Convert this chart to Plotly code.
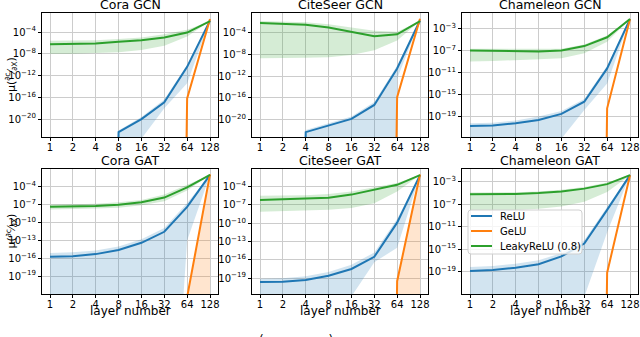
"""
Gradient magnitude vs. layer depth, 2x3 panels (GCN / GAT on three datasets).
Values are log10 of mu(dc/dX); Z marks a zero (drawn as falling off the log axis).
"""

import numpy as np
import plotly.graph_objects as go

LAYERS = [1, 2, 4, 8, 16, 32, 64, 128]
LAYER_LABELS = ["1", "2", "4", "8", "16", "32", "64", "128"]
Z = -300  # zero value -> off the bottom of a log axis

PANEL_TITLES = ["Cora GCN", "CiteSeer GCN", "Chameleon GCN",
                "Cora GAT", "CiteSeer GAT", "Chameleon GAT"]
SERIES = ["ReLU", "GeLU", "LeakyReLU (0.8)"]

# --- ReLU (mean line, band top, band bottom) ---
RELU = [
    [Z, Z, Z, -22.4, -20.0, -16.9, -10.4, -1.9],
    [Z, Z, -22.4, -21.2, -19.95, -17.35, -10.6, -1.7],
    [-20.7, -20.6, -20.2, -19.6, -18.5, -16.3, -10.25, -1.3],
    [-15.75, -15.65, -15.3, -14.6, -13.4, -11.55, -7.36, -2.0],
    [-19.65, -19.6, -19.3, -18.6, -17.5, -15.5, -9.9, -2.1],
    [-18.9, -18.7, -18.3, -17.7, -16.3, -14.0, -8.0, -1.8],
]
RELU_HI = [
    [Z, Z, Z, -22.1, -19.6, -16.4, -10.0, -1.9],
    [Z, Z, -22.0, -20.8, -19.5, -16.8, -10.1, -1.7],
    [-20.2, -20.1, -19.7, -19.0, -18.0, -15.8, -9.8, -1.3],
    [-15.1, -15.0, -14.7, -14.0, -12.8, -10.9, -6.7, -2.0],
    [-19.1, -19.0, -18.7, -18.0, -16.8, -14.8, -9.3, -2.1],
    [-18.2, -18.0, -17.6, -17.0, -15.7, -13.4, -7.5, -1.8],
]
RELU_LO = [
    [Z, Z, Z, Z, -23.6, -18.0, -13.4, -1.9],
    [Z, Z, Z, Z, Z, Z, -12.5, -1.7],
    [Z, Z, Z, Z, -23.0, -17.8, -13.0, -1.3],
    [Z, Z, Z, Z, Z, Z, -13.0, -2.0],
    [Z, Z, Z, Z, -22.0, -16.4, -14.0, -2.1],
    [Z, Z, Z, Z, Z, -23.5, -12.0, -1.8],
]

# --- GeLU ---
GELU = [
    [Z, Z, Z, Z, Z, Z, -16.2, -1.6],
    [Z, Z, Z, Z, Z, Z, -15.9, -1.35],
    [Z, Z, Z, Z, Z, Z, -17.5, -1.3],
    [Z, Z, Z, Z, Z, Z, -22.5, -1.9],
    [Z, Z, Z, Z, Z, Z, -19.5, -2.0],
    [Z, Z, Z, Z, Z, Z, -19.2, -1.8],
]
# band only visible on Cora GAT / CiteSeer GAT (None = not visible)
GELU_HI = [
    None, None, None,
    [Z, Z, Z, Z, Z, Z, -22.5, -1.9],
    [Z, Z, Z, Z, Z, Z, -19.5, -2.0],
    None,
]
GELU_LO = [
    None, None, None,
    [Z, Z, Z, Z, Z, Z, Z, Z],
    [Z, Z, Z, Z, Z, Z, Z, Z],
    None,
]

# --- LeakyReLU (0.8) ---
LEAKY = [
    [-6.25, -6.2, -6.1, -5.8, -5.5, -5.0, -4.1, -2.0],
    [-2.15, -2.3, -2.5, -3.0, -3.8, -4.6, -4.25, -1.8],
    [-7.0, -7.05, -7.1, -7.2, -7.0, -6.2, -4.6, -1.3],
    [-7.36, -7.3, -7.2, -7.0, -6.6, -5.8, -4.1, -2.0],
    [-6.2, -6.1, -6.0, -5.8, -5.3, -4.55, -3.7, -2.1],
    [-5.2, -5.2, -5.15, -5.0, -4.7, -4.2, -3.4, -1.8],
]
LEAKY_HI = [
    [-5.6, -5.6, -5.5, -5.3, -5.0, -4.4, -3.6, -2.0],
    [-1.8, -1.9, -2.0, -2.4, -3.0, -3.6, -3.8, -1.8],
    [-6.7, -6.7, -6.7, -6.8, -6.7, -5.9, -4.3, -1.3],
    [-7.0, -6.95, -6.85, -6.6, -6.2, -5.3, -3.7, -2.0],
    [-5.5, -5.5, -5.4, -5.2, -4.8, -4.1, -3.4, -2.1],
    [-4.9, -4.9, -4.85, -4.7, -4.4, -3.9, -3.1, -1.8],
]
LEAKY_LO = [
    [-8.0, -8.0, -7.9, -7.7, -7.3, -6.5, -4.8, -2.0],
    [-8.7, -8.7, -8.6, -8.5, -8.1, -7.2, -5.4, -1.8],
    [-9.0, -8.9, -8.8, -8.6, -8.4, -7.5, -5.4, -1.3],
    [-7.8, -7.75, -7.65, -7.5, -7.1, -6.4, -4.6, -2.0],
    [-8.1, -8.0, -7.9, -7.8, -7.5, -6.7, -4.8, -2.1],
    [-8.0, -8.0, -8.0, -7.8, -7.4, -6.55, -4.8, -1.8],
]

# y tick exponents and y ranges (log10) per panel
Y_TICKS = [
    [-4, -8, -12, -16, -20],
    [-4, -8, -12, -16, -20],
    [-3, -7, -11, -15, -19],
    [-4, -7, -10, -13, -16, -19],
    [-4, -7, -10, -13, -16, -19],
    [-3, -7, -11, -15, -19],
]
Y_RANGES = [
    [-23.3, -0.5], [-23.3, -0.3], [-22.7, -0.2],
    [-22.0, -1.0], [-21.6, -1.1], [-23.0, -0.7],
]

COLORS = {"ReLU": "#1f77b4", "GeLU": "#ff7f0e", "LeakyReLU (0.8)": "#2ca02c"}
FILLS = {"ReLU": "rgba(31,119,180,0.2)", "GeLU": "rgba(255,127,14,0.2)",
         "LeakyReLU (0.8)": "rgba(44,160,44,0.2)"}

W, H = 640, 337
COLS_PX = [(42, 218), (252, 428), (462, 638)]
ROWS_PX = [(13, 137), (169, 294)]
FONT = "DejaVu Sans"


def px(x):
    return x / W


def py(y):
    return 1 - y / H


def _v(exps):
    return list(10.0 ** np.array(exps, dtype=float))


def _band(fig, i, hi, lo, name):
    fig.add_trace(go.Scatter(
        x=LAYERS + LAYERS[::-1], y=_v(hi) + _v(lo)[::-1],
        fill="toself", fillcolor=FILLS[name], line=dict(width=0),
        mode="lines", hoverinfo="skip", showlegend=False,
        xaxis="x%d" % (i + 1), yaxis="y%d" % (i + 1),
    ))


def _line(fig, i, vals, name):
    fig.add_trace(go.Scatter(
        x=LAYERS, y=_v(vals), mode="lines", name=name,
        line=dict(color=COLORS[name], width=2),
        showlegend=False, legendgroup=name,
        xaxis="x%d" % (i + 1), yaxis="y%d" % (i + 1),
    ))


fig = go.Figure()
for i in range(6):
    _band(fig, i, RELU_HI[i], RELU_LO[i], "ReLU")
    if GELU_HI[i] is not None:
        _band(fig, i, GELU_HI[i], GELU_LO[i], "GeLU")
    _band(fig, i, LEAKY_HI[i], LEAKY_LO[i], "LeakyReLU (0.8)")
for i in range(6):
    _line(fig, i, RELU[i], "ReLU")
    _line(fig, i, GELU[i], "GeLU")
    _line(fig, i, LEAKY[i], "LeakyReLU (0.8)")

layout = {}
annotations = []
shapes = []
half = 0.35 * np.log10(2)
for i in range(6):
    r, c = divmod(i, 3)
    x0, x1 = COLS_PX[c]
    y0, y1 = ROWS_PX[r]
    common = dict(
        showline=True, mirror=True, linecolor="black", linewidth=1.3,
        ticks="outside", ticklen=3, tickcolor="black", automargin=False,
        showgrid=True, gridcolor="#cccccc", gridwidth=1, zeroline=False,
        tickfont=dict(family=FONT, size=10, color="black"),
    )
    layout["xaxis%d" % (i + 1)] = dict(
        type="log", domain=[px(x0), px(x1)],
        range=[np.log10(1) - half, np.log10(128) + half],
        tickmode="array", tickvals=LAYERS, ticktext=LAYER_LABELS,
        anchor="y%d" % (i + 1), ticklabelstandoff=-2, **common,
    )
    layout["yaxis%d" % (i + 1)] = dict(
        type="log", domain=[py(y1), py(y0)],
        range=Y_RANGES[i], anchor="x%d" % (i + 1),
        tickmode="array", tickvals=_v(Y_TICKS[i]),
        ticktext=["10<sup>\u2212%d</sup>" % -e for e in Y_TICKS[i]],
        **common,
    )

    annotations.append(dict(
        text=PANEL_TITLES[i], x=px((x0 + x1) / 2), y=py(y0 - 8),
        xref="paper", yref="paper", xanchor="center", yanchor="middle",
        showarrow=False, font=dict(family=FONT, size=12.5, color="black"),
    ))
    if r == 1:
        annotations.append(dict(
            text="layer number", x=px((x0 + x1) / 2), y=py(311),
            xref="paper", yref="paper", xanchor="center", yanchor="middle",
            showarrow=False, font=dict(family=FONT, size=12, color="black"),
        ))
    if c == 0:
        annotations.append(dict(
            text="\u03bc(<sup>\u2202c</sup>\u2044<sub>\u2202X</sub>)",
            x=px(11), y=py((y0 + y1) / 2), textangle=-90,
            xref="paper", yref="paper", xanchor="center", yanchor="middle",
            showarrow=False, font=dict(family=FONT, size=11, color="black"),
        ))

# legend box drawn inside the Chameleon GAT panel
LX0, LY0, LX1, LY1 = 468, 210, 582, 254
rad = 3
pts = [("M", LX0 + rad, LY0), ("L", LX1 - rad, LY0), ("Q", LX1, LY0), ("", LX1, LY0 + rad),
       ("L", LX1, LY1 - rad), ("Q", LX1, LY1), ("", LX1 - rad, LY1),
       ("L", LX0 + rad, LY1), ("Q", LX0, LY1), ("", LX0, LY1 - rad),
       ("L", LX0, LY0 + rad), ("Q", LX0, LY0), ("", LX0 + rad, LY0)]
path = " ".join("%s %.5f,%.5f" % (cmd, px(a), py(b)) if cmd else "%.5f,%.5f" % (px(a), py(b))
                for cmd, a, b in pts) + " Z"

shapes.append(dict(
    type="path", xref="paper", yref="paper", path=path,
    fillcolor="rgba(255,255,255,0.8)", line=dict(color="#d0d0d0", width=1),
))
for k, name in enumerate(SERIES):
    yy = py(216 + 15 * k)
    shapes.append(dict(
        type="line", xref="paper", yref="paper",
        x0=px(471), x1=px(492), y0=yy, y1=yy,
        line=dict(color=COLORS[name], width=2),
    ))
    annotations.append(dict(
        text=name, x=px(498), y=yy, xref="paper", yref="paper",
        xanchor="left", yanchor="middle", showarrow=False,
        font=dict(family=FONT, size=10, color="black"),
    ))

annotations.append(dict(
    text="(                 )", x=px(296), y=py(331),
    xref="paper", yref="paper", xanchor="center", yanchor="top",
    showarrow=False, font=dict(family=FONT, size=12, color="black"),
))

fig.update_layout(
    **layout,
    annotations=annotations,
    shapes=shapes,
    width=W, height=H,
    margin=dict(l=0, r=0, t=0, b=0),
    plot_bgcolor="white", paper_bgcolor="white",
    font=dict(family=FONT, color="black"),
    showlegend=False,
)

# the page body keeps its default 8px margin otherwise; hide the modebar too
fig.write_html("out.html", config={"displayModeBar": False},
               post_script="document.body.style.margin='0';")
